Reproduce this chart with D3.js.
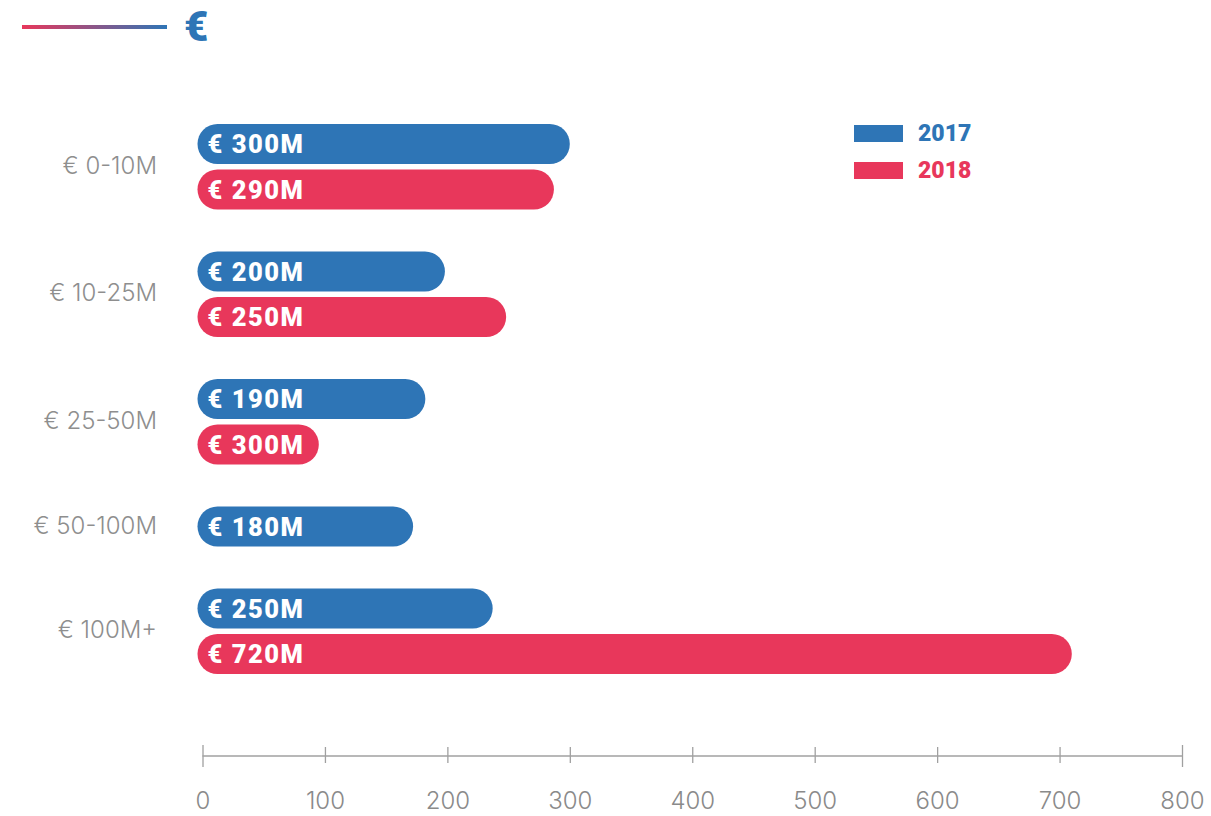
<!DOCTYPE HTML>
<html>
<head>
<meta charset="utf-8">
<title>Investment by deal size</title>
<script src="https://cdnjs.cloudflare.com/ajax/libs/d3/7.8.5/d3.min.js"></script>
<style>
  html, body { margin: 0; background: #fff; }
  svg { display: block; }
  .cat { font-family: Inter, Roboto, sans-serif; font-weight: 300; font-size: 24px; fill: #8e8e8e; }
  .tick text { font-family: Inter, Roboto, sans-serif; font-weight: 300; font-size: 24px; fill: #8a8a8a; }
  .tick line, .axis-line { stroke: #a0a0a0; stroke-width: 1.3; }
  .barlabel { font-family: Roboto, sans-serif; font-weight: 900; font-size: 25.5px; letter-spacing: 1.5px; fill: #fff; }
  .legend text { font-family: Roboto, sans-serif; font-weight: 900; font-size: 23px; }
</style>
</head>
<body>
<svg id="chart" width="1211" height="816"></svg>
<script>
var categories = ["€ 0-10M", "€ 10-25M", "€ 25-50M", "€ 50-100M", "€ 100M+"];
var years = ["2017", "2018"];
var values2017 = [300, 198, 182, 172, 237];
var values2018 = [287, 248, 95, null, 710];
var labels2017 = ["€ 300M", "€ 200M", "€ 190M", "€ 180M", "€ 250M"];
var labels2018 = ["€ 290M", "€ 250M", "€ 300M", "", "€ 720M"];
var xTicks = [0, 100, 200, 300, 400, 500, 600, 700, 800];

var BLUE = "#2e75b6";
var RED = "#e8375b";
var colors = { "2017": BLUE, "2018": RED };

var svg = d3.select("#chart");

// header: gradient rule + euro sign
var defs = svg.append("defs");
var grad = defs.append("linearGradient").attr("id", "hdr");
grad.append("stop").attr("offset", "0%").attr("stop-color", RED);
grad.append("stop").attr("offset", "100%").attr("stop-color", BLUE);
svg.append("rect").attr("x", 22).attr("y", 25).attr("width", 145).attr("height", 4).attr("fill", "url(#hdr)");
svg.append("text").attr("x", 184).attr("y", 41)
  .style("font-family", "Roboto, sans-serif").style("font-weight", 900).style("font-size", "42px")
  .attr("fill", BLUE).text("€");

// flatten into bar slots, one per existing value
var bars = [];
categories.forEach(function (c, g) {
  if (values2017[g] != null) bars.push({ cat: c, g: g, year: "2017", value: values2017[g], label: labels2017[g] });
  if (values2018[g] != null) bars.push({ cat: c, g: g, year: "2018", value: values2018[g], label: labels2018[g] });
});
bars.forEach(function (d, i) { d.slot = i; });

var x = d3.scaleLinear().domain([0, 800]).range([202.5, 1182]);
var BAR_H = 40, PITCH = 45.5, GROUP_GAP = 36.5, TOP = 144;
function yCenter(d) { return TOP + d.slot * PITCH + d.g * GROUP_GAP; }

var barG = svg.append("g");
barG.selectAll("rect").data(bars).enter().append("rect")
  .attr("x", x(0) - 5)
  .attr("y", function (d) { return yCenter(d) - BAR_H / 2; })
  .attr("width", function (d) { return x(d.value) - x(0) + 5; })
  .attr("height", BAR_H)
  .attr("rx", BAR_H / 2)
  .attr("fill", function (d) { return colors[d.year]; });

barG.selectAll("text").data(bars).enter().append("text")
  .attr("class", "barlabel")
  .attr("x", x(0) + 5)
  .attr("y", function (d) { return yCenter(d) + 9; })
  .text(function (d) { return d.label; });

// category labels centred on their bars
svg.selectAll(".cat").data(categories).enter().append("text")
  .attr("class", "cat")
  .attr("text-anchor", "end")
  .attr("x", 157)
  .attr("y", function (c, g) {
    var ys = bars.filter(function (b) { return b.g === g; }).map(yCenter);
    return d3.mean(ys) + 7;
  })
  .text(function (c) { return c; });

// x axis
var axisY = 756;
var axisG = svg.append("g").attr("transform", "translate(0," + axisY + ")");
axisG.call(d3.axisBottom(x).tickValues(xTicks).tickSize(0).tickPadding(36).tickFormat(d3.format("d")));
axisG.select(".domain").remove();
axisG.append("line").attr("class", "axis-line").attr("x1", x(0)).attr("x2", x(800)).attr("y1", 0).attr("y2", 0);
axisG.selectAll(".tick line")
  .attr("y1", function (d) { return (d === 0 || d === 800) ? -11 : -9; })
  .attr("y2", function (d) { return (d === 0 || d === 800) ? 11 : 7; });

// legend
var legend = svg.append("g").attr("class", "legend");
var lg = legend.selectAll("g").data(years).enter().append("g")
  .attr("transform", function (d, i) { return "translate(854," + (125 + i * 37) + ")"; });
lg.append("rect").attr("width", 49).attr("height", 17).attr("fill", function (d) { return colors[d]; });
lg.append("text").attr("x", 64).attr("y", 16).attr("fill", function (d) { return colors[d]; }).text(function (d) { return d; });
</script>
</body>
</html>
